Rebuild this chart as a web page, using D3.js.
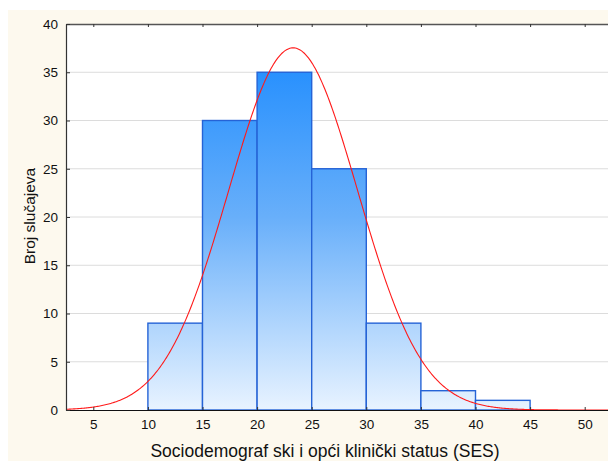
<!DOCTYPE html>
<html>
<head>
<meta charset="utf-8">
<script src="https://cdn.jsdelivr.net/npm/d3@7"></script>
<style>
  body { margin: 0; background: #ffffff; }
  svg { display: block; font-family: "Liberation Sans", Arial, sans-serif; }
</style>
</head>
<body>
<div id="chart"></div>
<script>
// histogram bins (lower edge, upper edge) and counts
var binStart = [10, 15, 20, 25, 30, 35, 40, 45];
var binEnd   = [15, 20, 25, 30, 35, 40, 45, 50];
var counts   = [9, 30, 35, 25, 9, 2, 1, 0];

var xTicks = [5, 10, 15, 20, 25, 30, 35, 40, 45, 50];
var yTicks = [0, 5, 10, 15, 20, 25, 30, 35, 40];

// fitted normal curve parameters
var fitMean = 23.3;
var fitSd = 5.9;

var W = 608, H = 461;
var margin = { top: 24, right: -4, bottom: 51, left: 66 };
var width = W - margin.left - margin.right,
    height = H - margin.top - margin.bottom;

var x = d3.scaleLinear().domain([2.5, 52.5]).range([0, width]);
var y = d3.scaleLinear().domain([0, 40]).range([height, 0]);

var root = d3.select('#chart')
    .append('svg')
    .attr('width', W)
    .attr('height', H);

// cream frame
root.append('rect')
    .attr('x', 8).attr('y', 10)
    .attr('width', W - 8).attr('height', H - 10)
    .attr('fill', '#fdf9ee');

var defs = root.append('defs');
var grad = defs.append('linearGradient')
    .attr('id', 'barfill')
    .attr('gradientUnits', 'userSpaceOnUse')
    .attr('x1', 0).attr('x2', 0)
    .attr('y1', y(40)).attr('y2', y(0));
grad.append('stop').attr('offset', '0%').attr('stop-color', '#1487ff');
grad.append('stop').attr('offset', '50%').attr('stop-color', '#68affa');
grad.append('stop').attr('offset', '100%').attr('stop-color', '#e8f3ff');

defs.append('clipPath')
    .attr('id', 'clip')
    .append('rect')
    .attr('width', width)
    .attr('height', height + 1);

var svg = root.append('g')
    .attr('transform', 'translate(' + margin.left + ',' + margin.top + ')');

// plot background
svg.append('rect')
    .attr('width', width)
    .attr('height', height)
    .attr('fill', '#ffffff');

// gridlines
svg.selectAll('.grid')
    .data(yTicks.filter(function (d) { return d > 0 && d < 40; }))
    .enter().append('line')
    .attr('x1', 0).attr('x2', width)
    .attr('y1', function (d) { return y(d); })
    .attr('y2', function (d) { return y(d); })
    .attr('stroke', '#dcdcdc')
    .attr('stroke-width', 1);

// bars
var bins = counts.map(function (c, i) { return { x0: binStart[i], x1: binEnd[i], n: c }; });

svg.selectAll('.bar')
    .data(bins)
    .enter().append('rect')
    .attr('x', function (d) { return x(d.x0); })
    .attr('y', function (d) { return y(d.n); })
    .attr('width', function (d) { return x(d.x1) - x(d.x0); })
    .attr('height', function (d) { return y(0) - y(d.n); })
    .attr('fill', 'url(#barfill)')
    .attr('stroke', '#2563d6')
    .attr('stroke-width', 1.4);

// normal fit
var total = d3.sum(counts);
var binW = binEnd[0] - binStart[0];
var fit = function (v) {
    return total * binW / (fitSd * Math.sqrt(2 * Math.PI)) *
        Math.exp(-0.5 * Math.pow((v - fitMean) / fitSd, 2));
};
var xs = d3.range(2.5, 52.6, 0.1);

svg.append('path')
    .datum(xs)
    .attr('clip-path', 'url(#clip)')
    .attr('fill', 'none')
    .attr('stroke', '#ff1a1a')
    .attr('stroke-width', 1.1)
    .attr('d', d3.line()
        .x(function (d) { return x(d); })
        .y(function (d) { return y(fit(d)); }));

// axes
var axBottom = svg.append('g')
    .attr('transform', 'translate(0,' + height + ')')
    .call(d3.axisBottom(x).tickValues(xTicks).tickSizeInner(-3).tickSizeOuter(0).tickPadding(9));
var axTop = svg.append('g')
    .call(d3.axisTop(x).tickValues(xTicks).tickSizeInner(-3).tickSizeOuter(0).tickFormat(''));
var axLeft = svg.append('g')
    .call(d3.axisLeft(y).tickValues(yTicks).tickSizeInner(-4).tickSizeOuter(0).tickPadding(8));

[axBottom, axTop, axLeft].forEach(function (g) {
    g.select('.domain').attr('stroke', '#333333').attr('stroke-width', 1.2);
    g.selectAll('.tick line').attr('stroke', '#333333');
    g.selectAll('.tick text')
        .attr('fill', '#111111')
        .style('font-size', '13.5px')
        .style('font-family', '"Liberation Sans", Arial, sans-serif');
});
axTop.select('.domain').attr('stroke', '#555555').attr('stroke-width', 1.6);
axBottom.select('.domain').attr('stroke', '#111111');

// axis titles
root.append('text')
    .attr('x', 325)
    .attr('y', 457)
    .attr('text-anchor', 'middle')
    .style('font-size', '17.5px')
    .attr('fill', '#111111')
    .text('Sociodemograf ski i opći klinički status (SES)');

root.append('text')
    .attr('transform', 'translate(35,216) rotate(-90)')
    .attr('text-anchor', 'middle')
    .style('font-size', '15.5px')
    .attr('fill', '#111111')
    .text('Broj slučajeva');
</script>
</body>
</html>
